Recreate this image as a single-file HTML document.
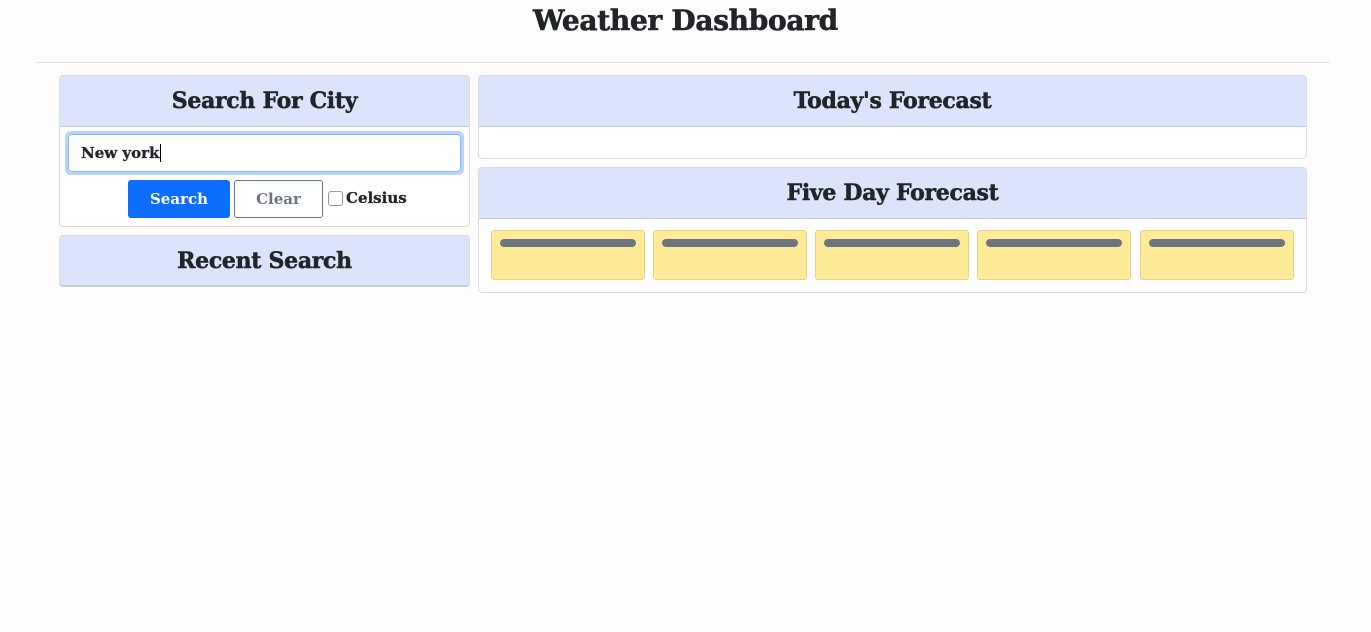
<!DOCTYPE html>
<html><head><meta charset="utf-8"><style>
body{margin:0;width:1371px;height:632px;background:#fdfdfd;font-family:"DejaVu Serif","Liberation Serif",serif;color:#212529;position:relative;overflow:hidden}
.a{position:absolute;box-sizing:border-box}
h1{position:absolute;left:0;width:1371px;top:4px;margin:0;text-align:center;font-size:28px;font-weight:bold;letter-spacing:-0.3px;-webkit-text-stroke:0.6px #212529}
.card{border:1px solid #dcdcdc;border-radius:4px;background:#fff;overflow:hidden}
.hd{position:absolute;left:0;right:0;top:0;height:50px;background:#dbe4fa;border-bottom:1px solid #c6ccd8;text-align:center;line-height:50px;font-weight:bold;font-size:22px;letter-spacing:-0.3px;-webkit-text-stroke:0.5px #212529}
.fc{background:#feea97;border:1px solid #e5d38a;border-radius:3px;width:154px;height:50px;top:230px}
.fc i{position:absolute;left:8px;right:8px;top:8px;height:8px;border-radius:4px;background:#6c757d}
</style></head><body>
<h1>Weather Dashboard</h1>
<div class="a" style="left:35px;top:62px;width:1295px;height:1px;background:#e0e0e6"></div>

<div class="a card" style="left:59px;top:75px;width:411px;height:152px">
<div class="hd">Search For City</div></div>
<div class="a" style="left:65px;top:131px;width:399px;height:44px;border:3px solid #b9d3fb;border-radius:6px;background:#fff"><div style="position:absolute;left:0;top:0;right:0;bottom:0;border:1px solid #86b7fe;border-radius:4px;font-weight:bold;font-size:15px;line-height:36px;padding-left:12px;-webkit-text-stroke:0.3px #212529">New york<span style="border-left:1px solid #000;margin-left:1px"></span></div></div>
<div class="a" style="left:128px;top:180px;width:102px;height:38px;background:#0d6efd;border-radius:3px;color:#fff;font-weight:bold;font-size:15px;text-align:center;line-height:38px">Search</div>
<div class="a" style="left:234px;top:180px;width:89px;height:38px;border:1px solid #6c757d;border-radius:3px;color:#6c757d;font-weight:bold;font-size:15px;text-align:center;line-height:36px">Clear</div>
<div class="a" style="left:328px;top:191px;width:15px;height:15px;border:1px solid #999;border-radius:3px;background:#fff"></div>
<div class="a" style="left:346px;top:189px;font-weight:bold;font-size:15px;-webkit-text-stroke:0.3px #212529">Celsius</div>

<div class="a card" style="left:59px;top:235px;width:411px;height:52px;border-bottom:2px solid #c6ccd8">
<div class="hd" style="border-bottom:none">Recent Search</div></div>

<div class="a card" style="left:478px;top:75px;width:829px;height:84px">
<div class="hd">Today's Forecast</div></div>

<div class="a card" style="left:478px;top:167px;width:829px;height:126px">
<div class="hd">Five Day Forecast</div></div>
<div class="a fc" style="left:491px"><i></i></div>
<div class="a fc" style="left:653px"><i></i></div>
<div class="a fc" style="left:815px"><i></i></div>
<div class="a fc" style="left:977px"><i></i></div>
<div class="a fc" style="left:1140px"><i></i></div>
</body></html>
